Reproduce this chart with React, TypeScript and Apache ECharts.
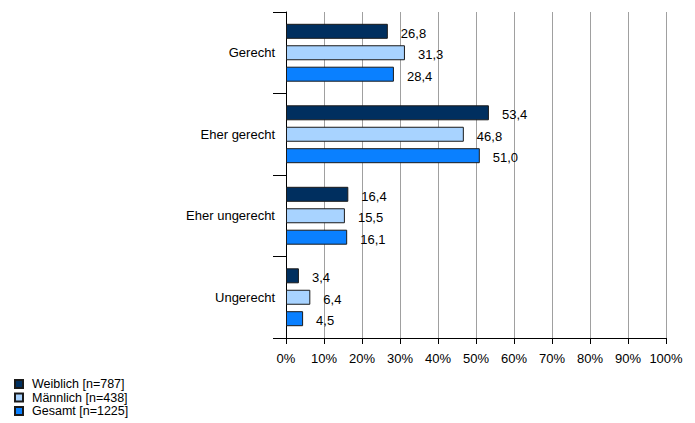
import React, { useEffect, useRef } from "react";
import * as echarts from "echarts";

const categories = ["Gerecht", "Eher gerecht", "Eher ungerecht", "Ungerecht"];
const seriesNames = ["Weiblich [n=787]", "Männlich [n=438]", "Gesamt [n=1225]"];
const weiblich = [26.8, 53.4, 16.4, 3.4];
const maennlich = [31.3, 46.8, 15.5, 6.4];
const gesamt = [28.4, 51.0, 16.1, 4.5];
const colors = ["#002f5f", "#a8d3ff", "#0a80ff"];

const FONT = "Arial";

export default function App() {
  const ref = useRef<HTMLDivElement>(null);
  useEffect(() => {
    if (!ref.current) return;
    const chart = echarts.init(ref.current, null, { renderer: "svg" });
    const values = [weiblich, maennlich, gesamt];
    chart.setOption({
      animation: false,
      textStyle: { fontFamily: FONT },
      grid: { left: 286, top: 12, right: 29, bottom: 85 },
      legend: {
        orient: "vertical",
        left: 14,
        top: 377.5,
        height: 80,
        padding: 0,
        itemWidth: 8,
        itemHeight: 8,
        itemGap: 0.5,
        icon: "rect",
        textStyle: { fontSize: 12.5, color: "#000", fontFamily: FONT, padding: [0, 0, 0, 4] },
        data: seriesNames,
      },
      xAxis: {
        type: "value",
        min: 0,
        max: 100,
        interval: 10,
        axisLine: { show: true, lineStyle: { color: "#000", width: 1 } },
        axisTick: { show: true, length: 6, lineStyle: { color: "#000" } },
        axisLabel: { formatter: "{value}%", fontSize: 13, color: "#000", margin: 14, fontFamily: FONT },
        splitLine: { show: true, lineStyle: { color: "#a0a0a0", width: 1 } },
      },
      yAxis: {
        type: "category",
        inverse: true,
        data: categories,
        axisLine: { show: true, lineStyle: { color: "#000", width: 1 } },
        axisTick: { show: true, length: 13, lineStyle: { color: "#000" } },
        axisLabel: { fontSize: 13, color: "#000", margin: 11, fontFamily: FONT },
      },
      series: values.map((v, i) => ({
        name: seriesNames[i],
        type: "bar",
        data: v,
        barWidth: 15,
        barGap: "43%",
        itemStyle: { color: colors[i], borderColor: "#1a1a1a", borderWidth: 1 },
        label: {
          show: true,
          position: "right",
          distance: 13,
          fontSize: 13,
          color: "#000",
          fontFamily: FONT,
          offset: [0, 2],
          formatter: (p: any) => String(p.value.toFixed(1)).replace(".", ","),
        },
      })),
    });
    return () => chart.dispose();
  }, []);
  return (
    <div
      ref={ref}
      style={{ position: "fixed", left: 0, top: 0, width: 695, height: 423, background: "#fff" }}
    />
  );
}
